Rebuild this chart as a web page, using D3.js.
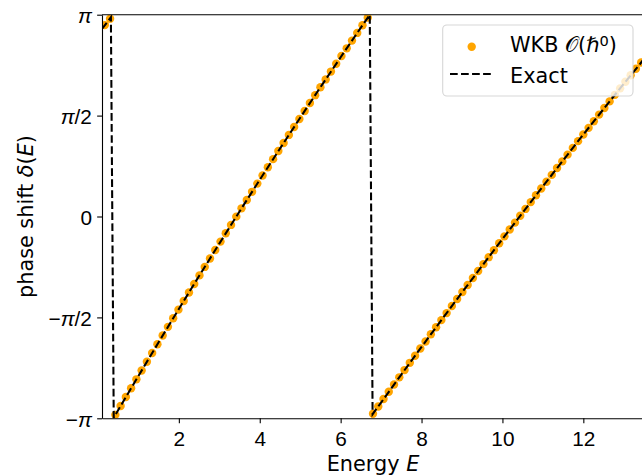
<!DOCTYPE html>
<html>
<head>
  <meta charset="utf-8">
  <script src="https://cdn.jsdelivr.net/npm/d3@7"></script>
  <style>
body {
  margin: 0;
  background: #fff;
}
svg {
  font-family: "DejaVu Sans", sans-serif;
}
.axis text {
  font-size: 20.8px;
  fill: #000;
}
.axis line,
.axis path {
  stroke: #000;
  stroke-width: 1.1px;
}
  </style>
</head>
<body>
<svg width="642" height="475"></svg>
<script>

// WKB samples: energy grid and phase shift wrapped to [-pi, pi]
const energyWKB = [
  0.17, 0.30, 0.43, 0.56, 0.69, 0.82, 0.95, 1.08, 1.21, 1.34,
  1.47, 1.60, 1.73, 1.86, 1.99, 2.12, 2.25, 2.38, 2.51, 2.64,
  2.77, 2.90, 3.03, 3.16, 3.29, 3.42, 3.55, 3.68, 3.81, 3.94,
  4.07, 4.20, 4.33, 4.46, 4.59, 4.72, 4.85, 4.98, 5.11, 5.24,
  5.37, 5.50, 5.63, 5.76, 5.89, 6.02, 6.15, 6.28, 6.41, 6.54,
  6.67, 6.80, 6.93, 7.06, 7.19, 7.32, 7.45, 7.58, 7.71, 7.84,
  7.97, 8.10, 8.23, 8.36, 8.49, 8.62, 8.75, 8.88, 9.01, 9.14,
  9.27, 9.40, 9.53, 9.66, 9.79, 9.92, 10.05, 10.18, 10.31, 10.44,
  10.57, 10.70, 10.83, 10.96, 11.09, 11.22, 11.35, 11.48, 11.61, 11.74,
  11.87, 12.00, 12.13, 12.26, 12.39, 12.52, 12.65, 12.78, 12.91, 13.04,
  13.17, 13.30, 13.43
];

const phaseWKB = [
  2.980, 3.080, -3.088, -2.949, -2.811, -2.673, -2.535, -2.398, -2.261, -2.125,
  -1.989, -1.853, -1.718, -1.584, -1.450, -1.316, -1.182, -1.050, -0.917, -0.785,
  -0.653, -0.522, -0.391, -0.261, -0.131, -0.002, 0.127, 0.256, 0.384, 0.512,
  0.639, 0.766, 0.893, 1.019, 1.144, 1.270, 1.394, 1.519, 1.643, 1.766,
  1.889, 2.012, 2.134, 2.256, 2.377, 2.498, 2.618, 2.738, 2.858, 2.977,
  3.096, -3.071, -2.957, -2.842, -2.729, -2.616, -2.504, -2.391, -2.278, -2.168,
  -2.056, -1.945, -1.834, -1.724, -1.613, -1.504, -1.394, -1.285, -1.176, -1.066,
  -0.958, -0.849, -0.741, -0.633, -0.524, -0.417, -0.309, -0.202, -0.095, 0.011,
  0.118, 0.224, 0.331, 0.436, 0.542, 0.648, 0.754, 0.858, 0.963, 1.068,
  1.173, 1.277, 1.380, 1.483, 1.586, 1.690, 1.792, 1.894, 1.995, 2.097,
  2.198, 2.299, 2.398
];

// exact solution, sampled finely around the 2pi wraps
const energyExact = [
  0.10, 0.32, 0.39, 1.0, 1.5, 2.0, 2.5, 3.0, 3.5, 4.0, 4.5, 5.0, 5.5, 6.0, 6.5,
  6.72, 6.79, 7.0, 7.5, 8.0, 8.5, 9.0, 9.5, 10.0, 10.5, 11.0, 11.5, 12.0, 12.5,
  13.0, 13.5
];

const phaseExact = [
  2.920, 3.100, -3.131, -2.482, -1.958, -1.439, -0.927, -0.422, 0.078, 0.571,
  1.057, 1.538, 2.012, 2.479, 2.941, 3.140, -3.078, -2.896, -2.460, -2.031,
  -1.605, -1.184, -0.766, -0.351, 0.060, 0.469, 0.874, 1.277, 1.673, 2.066,
  2.451
];

const xTicks = [2, 4, 6, 8, 10, 12];
const yTicks = [-Math.PI, -Math.PI / 2, 0, Math.PI / 2, Math.PI];
const yTickLabels = ["−π", "−π/2", "0", "π/2", "π"];

const x0 = 102, x1 = 644, y0 = 418.3, y1 = 14.7;
const fs = 20.8;

var svg = d3.select("svg");

var x = d3.scaleLinear().domain([0.1, 13.5]).range([x0, x1]);
var y = d3.scaleLinear().domain([-Math.PI, Math.PI]).range([y0, y1]);

svg.append("defs").append("clipPath")
   .attr("id", "clip")
   .append("rect")
   .attr("x", x0).attr("y", y1)
   .attr("width", x1 - x0).attr("height", y0 - y1);

var plot = svg.append("g").attr("clip-path", "url(#clip)");

plot.append("g")
    .selectAll("circle")
    .data(energyWKB)
    .join("circle")
    .attr("cx", d => x(d))
    .attr("cy", (d, i) => y(phaseWKB[i]))
    .attr("r", 4.2)
    .attr("fill", "#ffa500");

var line = d3.line()
             .x(d => x(d))
             .y((d, i) => y(phaseExact[i]));

plot.append("path")
    .datum(energyExact)
    .attr("d", line)
    .attr("fill", "none")
    .attr("stroke", "#000")
    .attr("stroke-width", 2.08)
    .attr("stroke-dasharray", "7.7,3.33");

// axes
svg.append("g")
   .attr("class", "axis")
   .attr("transform", `translate(0,${y0})`)
   .call(d3.axisBottom(x)
           .tickValues(xTicks)
           .tickSize(4.86)
           .tickSizeOuter(0)
           .tickPadding(7.8)
           .tickFormat(d3.format("d")));

var yAxis = svg.append("g")
   .attr("class", "axis")
   .attr("transform", `translate(${x0},0)`)
   .call(d3.axisLeft(y)
           .tickValues(yTicks)
           .tickSize(4.86)
           .tickSizeOuter(0)
           .tickPadding(5.2)
           .tickFormat((d, i) => yTickLabels[i]));

yAxis.selectAll(".tick text")
     .attr("dy", "0.38em")
     .each(function(d, i) {
       var t = d3.select(this).text(null);
       yTickLabels[i].split(/(π)/).forEach(p => {
         if (!p) return;
         t.append("tspan")
          .attr("font-style", p == "π" ? "italic" : null)
          .text(p);
       });
     });

svg.append("line")
   .attr("x1", x0).attr("x2", x1)
   .attr("y1", y1).attr("y2", y1)
   .attr("stroke", "#000")
   .attr("stroke-width", 1.1);

// labels
var xl = svg.append("text")
            .attr("x", (x0 + x1) / 2)
            .attr("y", 471)
            .attr("text-anchor", "middle")
            .attr("font-size", fs);
xl.append("tspan").text("Energy ");
xl.append("tspan").attr("font-style", "italic").text("E");

var yl = svg.append("text")
            .attr("transform", `translate(33,${(y0 + y1) / 2}) rotate(-90)`)
            .attr("text-anchor", "middle")
            .attr("font-size", fs);
yl.append("tspan").text("phase shift ");
yl.append("tspan").attr("font-style", "italic").text("δ");
yl.append("tspan").text("(");
yl.append("tspan").attr("font-style", "italic").text("E");
yl.append("tspan").text(")");

// legend
var legend = svg.append("g");

legend.append("rect")
      .attr("x", 442.7).attr("y", 25)
      .attr("width", 190.3).attr("height", 71)
      .attr("rx", 4.2)
      .attr("fill", "#fff")
      .attr("fill-opacity", 0.8)
      .attr("stroke", "rgba(204,204,204,0.8)")
      .attr("stroke-width", 1.1);

legend.append("circle")
      .attr("cx", 471.7).attr("cy", 46.7)
      .attr("r", 4.2)
      .attr("fill", "#ffa500");

legend.append("line")
      .attr("x1", 450).attr("x2", 491.7)
      .attr("y1", 74).attr("y2", 74)
      .attr("stroke", "#000")
      .attr("stroke-width", 2.08)
      .attr("stroke-dasharray", "7.7,3.33");

var l1 = legend.append("text")
               .attr("x", 510).attr("y", 52.3)
               .attr("font-size", fs);
l1.append("tspan").text("WKB ");
l1.append("tspan").text("𝒪");
l1.append("tspan").text("(");
l1.append("tspan").attr("font-style", "italic").text("ℏ");
l1.append("tspan").attr("font-size", 14.6).attr("dy", -6.5).text("0");
l1.append("tspan").attr("dy", 6.5).text(")");

legend.append("text")
      .attr("x", 510).attr("y", 83.3)
      .attr("font-size", fs)
      .text("Exact");

</script>
</body>
</html>
